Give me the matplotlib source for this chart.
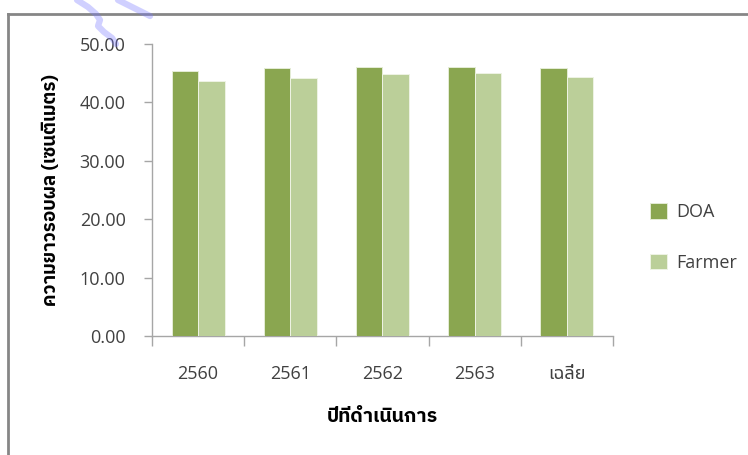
import matplotlib
matplotlib.use("Agg")
import matplotlib.pyplot as plt
from matplotlib import font_manager
from matplotlib.lines import Line2D
import numpy as np

# ── Data ──────────────────────────────────────────────────────────────────────
years = ["2560", "2561", "2562", "2563", "เฉลี่ย"]
doa = [45.38, 45.89, 46.06, 46.06, 45.85]
farmer = [43.66, 44.18, 44.86, 45.03, 44.43]
y_ticks = [0, 10, 20, 30, 40, 50]

# ── Fonts ─────────────────────────────────────────────────────────────────────
THAI_CANDIDATES = ["Noto Sans Thai", "Noto Sans Thai UI", "IBM Plex Sans Thai",
                   "Sarabun", "Kanit", "Prompt"]
fonts = font_manager.fontManager.ttflist
installed = {f.name for f in fonts}
thai = next((n for n in THAI_CANDIDATES if n in installed), "DejaVu Sans")


def _weight(w):
    if isinstance(w, int):
        return w
    return font_manager.weight_dict.get(w, 400)


thai_bold = next((n for n in THAI_CANDIDATES
                  if any(f.name == n and _weight(f.weight) >= 600 and f.style == "normal"
                         for f in fonts)), thai)

plt.rcParams["font.family"] = ["Open Sans", thai, "DejaVu Sans"]
BOLD_FAMILY = [thai_bold, "DejaVu Sans"]

DOA_C = "#8aa650"
FARM_C = "#bbcf99"
AXIS_C = "#a6a6a6"
TXT_C = "#404040"

fig = plt.figure(figsize=(7.48, 4.55), dpi=100)
ax = fig.add_axes([0.2032, 0.2615, 0.6163, 0.6418])

x = np.arange(len(years))
w = 0.288
ax.bar(x - w / 2, doa, w, color=DOA_C, edgecolor="#e4ecd6", linewidth=0.7,
       label="DOA", zorder=3)
ax.bar(x + w / 2, farmer, w, color=FARM_C, edgecolor="#eef3e4", linewidth=0.7,
       label="Farmer", zorder=3)

ax.set_xlim(-0.5, len(years) - 0.5)
ax.set_ylim(0, 50)
for s in ["top", "right"]:
    ax.spines[s].set_visible(False)
for s in ["left", "bottom"]:
    ax.spines[s].set_color(AXIS_C)
    ax.spines[s].set_linewidth(1.0)

ax.set_yticks(y_ticks)
ax.set_yticklabels([f"{v:.2f}" for v in y_ticks])
ax.tick_params(axis="y", direction="out", length=6, width=1.0, color=AXIS_C,
               labelsize=13, labelcolor=TXT_C, pad=13)

# category boundaries carry the tick marks, centres carry the labels
ax.set_xticks(np.arange(-0.5, len(years), 1.0))
ax.set_xticklabels([])
ax.set_xticks(x, minor=True)
ax.set_xticklabels(years, minor=True)
ax.tick_params(axis="x", which="major", direction="out", length=7, width=1.0,
               color=AXIS_C)
ax.tick_params(axis="x", which="minor", length=0, labelsize=13,
               labelcolor=TXT_C, pad=21)

ax.set_ylabel("ความยาวรอบผล (เซนติเมตร)", fontsize=13.5, fontweight="bold",
              family=BOLD_FAMILY, color="black", labelpad=14)
ax.set_xlabel("ปีที่ดำเนินการ", fontsize=14, fontweight="bold",
              family=BOLD_FAMILY, color="black", labelpad=18)

leg = ax.legend(loc="center left", bbox_to_anchor=(0.847, 0.478),
                bbox_transform=fig.transFigure, frameon=False, fontsize=13,
                handlelength=0.94, handleheight=0.94, handletextpad=0.55,
                labelspacing=1.8, labelcolor=TXT_C)

# outer chart frame (left and top edges)
frame_c = "#868686"
fig.add_artist(Line2D([0.0107, 0.0107], [0.0, 0.9692], color=frame_c,
                      lw=2.0, transform=fig.transFigure))
fig.add_artist(Line2D([0.0107, 1.0], [0.9692, 0.9692], color=frame_c,
                      lw=2.0, transform=fig.transFigure))

# faint blue watermark strokes running off the top edge (pixel coords)
W, H = 748, 455
for stroke in ([(77, 0), (88, 7), (96, 14), (100, 20), (98, 26), (104, 32),
                (112, 38), (116, 44)],
               [(118, 0), (134, 8), (150, 16)]):
    px, py = zip(*stroke)
    fig.add_artist(Line2D([p / W for p in px], [1 - p / H for p in py],
                          color="#7a7aff", alpha=0.35, lw=4.5,
                          solid_capstyle="round", transform=fig.transFigure,
                          zorder=5))

fig.savefig("out.png", dpi=100)
